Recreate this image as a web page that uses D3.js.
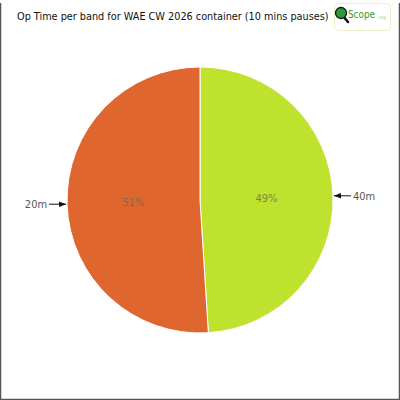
<!DOCTYPE html>
<html lang="en">
<head>
  <meta charset="UTF-8" />
  <title>Op Time per band</title>
  <script src="https://d3js.org/d3.v7.min.js"></script>
  <style>
    body { margin: 0; background: #fff; }
    svg { display: block; font-family: "DejaVu Sans Condensed", "Liberation Sans Narrow", sans-serif; }
  </style>
</head>
<body>
  <div id="chart"></div>
  <script>
    // data
    const bands = ["40m", "20m"];
    const shares = [49, 51];
    const colors = ["#bfe22f", "#e0662f"];

    const width = 400, height = 400;
    const cx = 200, cy = 200, radius = 133;

    const svg = d3.select("#chart").append("svg")
      .attr("width", width)
      .attr("height", height);

    // shrink a text's font until it fits the given width
    function fitWidth(sel, maxW, size) {
      sel.attr("font-size", size);
      const w = sel.node().getComputedTextLength();
      if (w > maxW) sel.attr("font-size", size * maxW / w);
      return sel;
    }

    svg.append("defs").append("marker")
      .attr("id", "arrow")
      .attr("viewBox", "0 0 10 10")
      .attr("refX", 10).attr("refY", 5)
      .attr("markerWidth", 7).attr("markerHeight", 7)
      .attr("orient", "auto")
      .append("path")
      .attr("d", "M0,1L10,5L0,9Z")
      .attr("fill", "#111");

    // frame (no top edge)
    svg.append("path")
      .attr("d", "M0.5,3V399.5H399.5V3")
      .attr("fill", "none")
      .attr("stroke", "#555")
      .attr("stroke-width", 1.5);

    const title = svg.append("text")
      .attr("x", 17)
      .attr("y", 20)
      .attr("fill", "#111")
      .text("Op Time per band for WAE CW 2026 container (10 mins pauses)");
    fitWidth(title, 312, 12);

    // logo
    const logo = svg.append("g").attr("transform", "translate(334,3)");
    logo.append("rect")
      .attr("x", 0.5).attr("y", 0.5)
      .attr("width", 56).attr("height", 27).attr("rx", 4)
      .attr("fill", "#fff").attr("stroke", "#e8f0c8");
    logo.append("line")
      .attr("x1", 9).attr("y1", 13).attr("x2", 14).attr("y2", 19)
      .attr("stroke", "#111").attr("stroke-width", 2.5).attr("stroke-linecap", "round");
    logo.append("circle")
      .attr("cx", 7).attr("cy", 10).attr("r", 5.5)
      .attr("fill", "#2f9a3a").attr("stroke", "#111").attr("stroke-width", 1.3);
    const scope = logo.append("text")
      .attr("x", 14).attr("y", 15)
      .attr("fill", "#3a9a2a")
      .text("Scope");
    fitWidth(scope, 27, 13);
    logo.append("text")
      .attr("x", 43).attr("y", 16)
      .attr("font-size", 5)
      .attr("fill", "#9ccf6a")
      .text(".org");

    const pie = d3.pie().sort(null).value(d => d.v);
    const arcs = pie(bands.map((b, i) => ({ b, v: shares[i], c: colors[i] })));
    const arc = d3.arc().innerRadius(0).outerRadius(radius);
    const labelArc = d3.arc().innerRadius(radius * 0.5).outerRadius(radius * 0.5);

    const g = svg.append("g").attr("transform", `translate(${cx},${cy})`);

    g.selectAll("path.slice")
      .data(arcs)
      .enter().append("path")
      .attr("class", "slice")
      .attr("d", arc)
      .attr("fill", d => d.data.c)
      .attr("stroke", "#fff")
      .attr("stroke-width", 1);

    g.selectAll("text.pct")
      .data(arcs)
      .enter().append("text")
      .attr("class", "pct")
      .attr("transform", d => `translate(${labelArc.centroid(d)})`)
      .attr("dy", "0.35em")
      .attr("text-anchor", "middle")
      .attr("font-size", 11)
      .attr("fill", "#6b6b4a")
      .attr("fill-opacity", 0.8)
      .text(d => d.data.v + "%");

    // outside labels with arrows pointing to the edge
    arcs.forEach(d => {
      const mid = (d.startAngle + d.endAngle) / 2;
      const side = Math.sin(mid) >= 0 ? 1 : -1;
      const ex = Math.sin(mid) * radius, ey = -Math.cos(mid) * radius;
      const lx = ex + side * 18;
      g.append("line")
        .attr("x1", lx).attr("y1", ey)
        .attr("x2", ex + side * 1).attr("y2", ey)
        .attr("stroke", "#111")
        .attr("stroke-width", 1)
        .attr("marker-end", "url(#arrow)");
      g.append("text")
        .attr("x", lx + side * 2)
        .attr("y", ey)
        .attr("dy", "0.35em")
        .attr("text-anchor", side > 0 ? "start" : "end")
        .attr("font-size", 11)
        .attr("fill", "#555")
        .text(d.data.b);
    });
  </script>
</body>
</html>
